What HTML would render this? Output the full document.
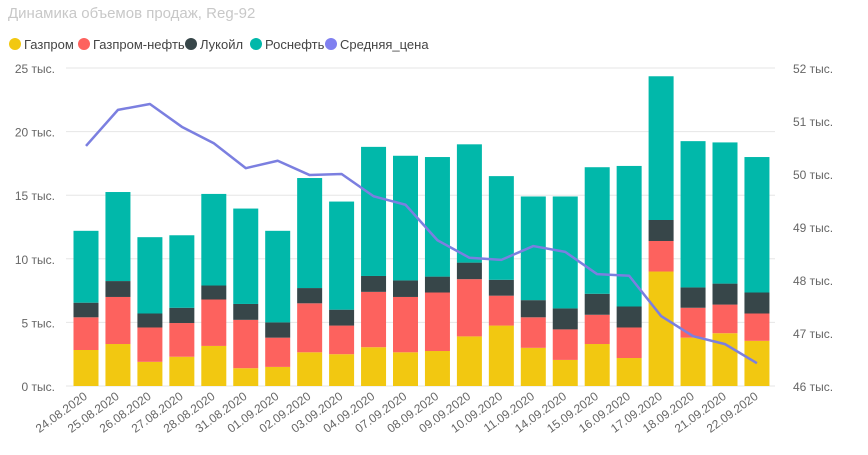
<!DOCTYPE html>
<html><head><meta charset="utf-8"><style>
body{margin:0;background:#fff;font-family:"Liberation Sans",sans-serif;}
svg text{font-family:"Segoe UI","Liberation Sans",sans-serif;}
</style></head><body>
<svg id="c" width="868" height="450" xmlns="http://www.w3.org/2000/svg">
<text x="8" y="18" font-size="15" fill="#c8c8c8">Динамика объемов продаж, Reg-92</text>
<g>
<circle cx="15" cy="44" r="6" fill="#F2C811"/><text x="24" y="49" font-size="13" fill="#444">Газпром</text>
<circle cx="84" cy="44" r="6" fill="#FD625E"/><text x="93" y="49" font-size="13" fill="#444">Газпром-нефть</text>
<circle cx="191" cy="44" r="6" fill="#374649"/><text x="200" y="49" font-size="13" fill="#444">Лукойл</text>
<circle cx="256" cy="44" r="6" fill="#01B8AA"/><text x="265" y="49" font-size="13" fill="#444">Роснефть</text>
<circle cx="331" cy="44" r="6" fill="#8080F0"/><text x="340" y="49" font-size="13" fill="#444">Средняя_цена</text>
</g>
<g id="grid"></g><g id="bars"></g><g id="line"></g><g id="axes"></g>
</svg>
<script>
const dates=["24.08.2020","25.08.2020","26.08.2020","27.08.2020","28.08.2020","31.08.2020","01.09.2020","02.09.2020","03.09.2020","04.09.2020","07.09.2020","08.09.2020","09.09.2020","10.09.2020","11.09.2020","14.09.2020","15.09.2020","16.09.2020","17.09.2020","18.09.2020","21.09.2020","22.09.2020"];
const gazprom=[2.83,3.3,1.9,2.3,3.15,1.4,1.5,2.65,2.5,3.05,2.65,2.75,3.9,4.75,3.0,2.05,3.3,2.2,9.0,3.8,4.15,3.55];
const gazpromNeft=[2.57,3.7,2.7,2.65,3.65,3.8,2.3,3.85,2.25,4.35,4.35,4.6,4.5,2.35,2.4,2.4,2.3,2.4,2.4,2.35,2.25,2.15];
const lukoil=[1.15,1.25,1.1,1.2,1.1,1.25,1.2,1.2,1.25,1.25,1.3,1.25,1.3,1.25,1.35,1.65,1.65,1.65,1.65,1.6,1.65,1.65];
const rosneft=[5.65,7.0,6.0,5.7,7.2,7.5,7.2,8.65,8.5,10.15,9.8,9.4,9.3,8.15,8.15,8.8,9.95,11.05,11.3,11.5,11.1,10.65];
const avgPrice=[50.53,51.21,51.32,50.89,50.58,50.11,50.25,49.98,50.0,49.58,49.42,48.75,48.42,48.38,48.64,48.53,48.11,48.08,47.32,46.94,46.79,46.43];
const leftTicks=[0,5,10,15,20,25];
const rightTicks=[46,47,48,49,50,51,52];
const NS="http://www.w3.org/2000/svg";
const y0=386,yTop=68;
const yL=v=>y0-(v/25)*(y0-yTop);
const yR=v=>y0-((v-46)/6)*(y0-yTop);
const xC=i=>86+i*31.95;
const bw=25;
function mk(t,a,p){const e=document.createElementNS(NS,t);for(const k in a)e.setAttribute(k,a[k]);p.appendChild(e);return e;}
const grid=document.getElementById('grid'),axes=document.getElementById('axes'),bars=document.getElementById('bars'),line=document.getElementById('line');
leftTicks.forEach(t=>{
 const l=mk('line',{x1:66,x2:775,y1:yL(t),y2:yL(t),stroke:'#e6e6e6','stroke-width':1},grid);
 
 
 const tx=mk('text',{x:55,y:yL(t)+5,'font-size':12,fill:'#666','text-anchor':'end'},axes);
 tx.textContent=t+' тыс.';
 
 
});
rightTicks.forEach(t=>{
 const tx=mk('text',{x:793,y:yR(t)+5,'font-size':12,fill:'#666'},axes);
 tx.textContent=t+' тыс.';
 
 
});
const series=[[gazprom,'#F2C811','gazprom'],[gazpromNeft,'#FD625E','gazprom-neft'],[lukoil,'#374649','lukoil'],[rosneft,'#01B8AA','rosneft']];
dates.forEach((d,i)=>{
 let cum=0;
 series.forEach(([arr,col,nm])=>{
  const v=arr[i];
  const r=mk('rect',{x:xC(i)-bw/2,y:yL(cum+v),width:bw,height:yL(cum)-yL(cum+v),fill:col},bars);
  
  
  cum+=v;
 });
 const tx=mk('text',{x:xC(i)+2,y:398,'font-size':12,fill:'#666','text-anchor':'end',transform:`rotate(-36 ${xC(i)+2} 398)`},axes);
 tx.textContent=d;
 
 
});
const pts=avgPrice.map((v,i)=>xC(i)+','+yR(v)).join(' ');
const pl=mk('polyline',{points:pts,fill:'none',stroke:'#7B7FE0','stroke-width':2.5,'stroke-linejoin':'round'},line);


</script>
</body></html>
